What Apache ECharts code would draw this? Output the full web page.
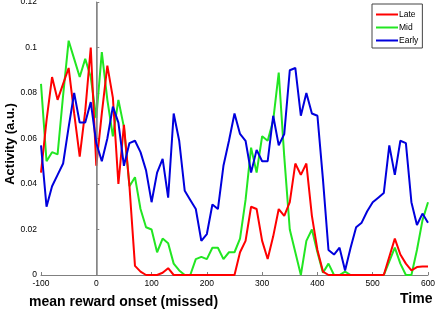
<!DOCTYPE html>
<html>
<head>
<meta charset="utf-8">
<script src="https://cdn.jsdelivr.net/npm/echarts@6/dist/echarts.min.js"></script>
<style>html,body{margin:0;padding:0;background:#fff;}#c{width:435px;height:312px;}</style>
</head>
<body>
<div id="c"></div>
<script>
// Time points (step 10 from -100 to 600)
var times = [];
for (var t = -100; t <= 600; t += 10) times.push(t);

var late = [
 0.045,0.068,0.087,0.077,0.084,0.091,0.071,0.052,0.072,0.100,
 0.048,0.071,0.092,0.078,0.040,0.066,0.039,0.004,0.0015,0,
 0,0,0.001,0.003,0,0,0,0,0,0,
 0,0,0,0,0,0,0.010,0.015,0.030,0.029,
 0.015,0.007,0.017,0.029,0.026,0.032,0.049,0.044,0.049,0.026,
 0.011,0.0015,0,0,0,0,0,0,0,0,
 0,0,0,0.008,0.016,0.009,0.005,0.002,0.0035,0.0037,
 0.0037
];
var mid = [
 0.084,0.050,0.054,0.053,0.079,0.103,0.095,0.087,0.095,0.087,
 0.069,0.098,0.077,0.061,0.077,0.065,0.039,0.043,0.029,0.021,
 0.020,0.010,0.016,0.014,0.005,0.002,0,0,0.007,0.008,
 0.007,0.012,0.012,0.007,0.010,0.010,0.016,0.033,0.056,0.045,
 0.061,0.059,0.068,0.089,0.052,0.020,0.010,0,0.015,0.020,
 0.010,0.001,0.005,0,0,0.0015,0,0,0,0,
 0,0,0,0.006,0.012,0.005,0,0,0.011,0.024,
 0.032
];
var early = [
 0.057,0.030,0.039,0.044,0.049,0.065,0.080,0.067,0.067,0.076,
 0.058,0.050,0.060,0.074,0.067,0.048,0.058,0.059,0.054,0.046,
 0.032,0.045,0.051,0.034,0.071,0.059,0.037,0.033,0.029,0.015,
 0.018,0.031,0.029,0.048,0.059,0.071,0.062,0.059,0.045,0.055,
 0.050,0.050,0.070,0.057,0.062,0.090,0.091,0.070,0.080,0.071,
 0.070,0.042,0.011,0.009,0.012,0.002,0.012,0.021,0.023,0.028,
 0.032,0.034,0.036,0.057,0.044,0.059,0.058,0.032,0.022,0.027,
 0.023
];
var seriesNames = ['Late', 'Mid', 'Early'];
var seriesColors = ['#ff0000', '#22e622', '#0000dd'];
var xTicks = { min: -100, max: 600, step: 100 };
var yTicks = { min: 0, max: 0.12, step: 0.02 };
var onsetTime = 0;

function pairs(arr) { return arr.map(function (v, i) { return [times[i], v]; }); }

var chart = echarts.init(document.getElementById('c'), null, { renderer: 'canvas' });
var font = 'Liberation Sans, Arial, sans-serif';
chart.setOption({
  animation: false,
  backgroundColor: '#ffffff',
  grid: { left: 41, right: 7, top: 2, bottom: 37, containLabel: false, outerBoundsMode: 'none' },
  legend: {
    orient: 'vertical', left: 372, top: 4,
    data: seriesNames,
    icon: 'rect', itemWidth: 22, itemHeight: 2, itemGap: 4,
    borderColor: '#444', borderWidth: 1, padding: [6, 4, 3, 4],
    backgroundColor: '#fff',
    textStyle: { fontFamily: font, fontSize: 8.5, color: '#000', padding: [0, 0, 0, -4] }
  },
  xAxis: {
    type: 'value', min: xTicks.min, max: xTicks.max, interval: xTicks.step,
    axisLine: { show: true, lineStyle: { color: '#808080', width: 1 } },
    axisTick: { show: true, inside: true, length: 3, lineStyle: { color: '#808080' } },
    axisLabel: { fontFamily: font, fontSize: 8.5, color: '#000', margin: 4 },
    splitLine: { show: false }
  },
  yAxis: {
    type: 'value', min: yTicks.min, max: yTicks.max, interval: yTicks.step,
    axisLine: { show: true, lineStyle: { color: '#808080', width: 1 } },
    axisTick: { show: true, inside: true, length: 3, lineStyle: { color: '#808080' } },
    axisLabel: { fontFamily: font, fontSize: 8.5, color: '#000', margin: 4 },
    splitLine: { show: false }
  },
  graphic: [
    { type: 'text', x: 10, y: 144, rotation: Math.PI / 2,
      style: { text: 'Activity (a.u.)', font: 'bold 13px ' + font, fill: '#000', align: 'center', verticalAlign: 'middle' } },
    { type: 'text', left: 29, top: 295, style: { text: 'mean reward onset (missed)', font: 'bold 14px ' + font, fill: '#000' } },
    { type: 'text', left: 400, top: 292, style: { text: 'Time', font: 'bold 14px ' + font, fill: '#000' } }
  ],
  series: [
    { name: seriesNames[0], type: 'line', data: pairs(late), symbol: 'none', z: 4,
      lineStyle: { color: seriesColors[0], width: 2 }, itemStyle: { color: seriesColors[0] },
      markLine: { silent: true, symbol: 'none', label: { show: false },
        lineStyle: { color: '#888', width: 1.5, type: 'solid' }, data: [{ xAxis: onsetTime }] } },
    { name: seriesNames[1], type: 'line', data: pairs(mid), symbol: 'none', z: 3,
      lineStyle: { color: seriesColors[1], width: 2 }, itemStyle: { color: seriesColors[1] } },
    { name: seriesNames[2], type: 'line', data: pairs(early), symbol: 'none', z: 5,
      lineStyle: { color: seriesColors[2], width: 2 }, itemStyle: { color: seriesColors[2] } }
  ]
});
</script>
</body>
</html>
